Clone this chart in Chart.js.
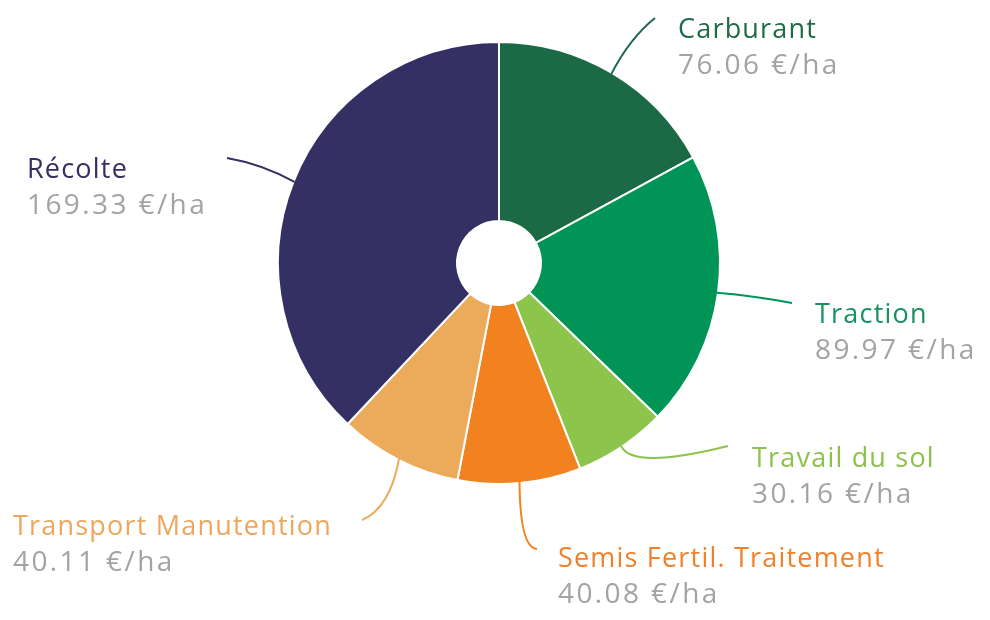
<!DOCTYPE html>
<html>
<head>
<meta charset="utf-8">
<script src="https://cdn.jsdelivr.net/npm/chart.js@4"></script>
<style>
	html, body { margin: 0; padding: 0; background: #fff; }
	#wrap { width: 990px; height: 620px; }
</style>
</head>
<body>
<div id="wrap"><canvas id="chart" width="990" height="620"></canvas></div>
<script>
// chart data
const categories = ["Carburant", "Traction", "Travail du sol", "Semis Fertil. Traitement", "Transport Manutention", "Récolte"];
const costs = [76.06, 89.97, 30.16, 40.08, 40.11, 169.33];
const unit = "€/ha";

const sliceColors = ["#1c6a45", "#009456", "#8dc44b", "#f2821f", "#ecab5b", "#343063"];
const textColors = ["#1f6b47", "#16915f", "#8cc24c", "#f0812a", "#eca75c", "#343063"];
const valueColor = "#a3a3a3";

// label placement: text anchor, leader end point and curve control point (pixels)
const labelPos = [
	{x: 678, y: 38, end: [655, 18], ctrl: [630, 38]},
	{x: 815, y: 323, end: [792, 303], ctrl: [755, 296]},
	{x: 752, y: 467, end: [728, 446], ctrl: [632, 470]},
	{x: 558, y: 567, end: [537, 549], ctrl: [520, 548]},
	{x: 13, y: 535, end: [362, 520], ctrl: [390, 508]},
	{x: 27, y: 178, end: [227, 158], ctrl: [262, 164]}
];

const FONT = "'Open Sans', sans-serif";

const labelsPlugin = {
	id: "sliceLabels",
	afterDraw: chart => {
		const ctx = chart.ctx;
		const arcs = chart.getDatasetMeta(0).data;
		arcs.forEach((arc, i) => {
			const {x, y, startAngle, endAngle, outerRadius} = arc.getProps(["x", "y", "startAngle", "endAngle", "outerRadius"], true);
			const mid = (startAngle + endAngle) / 2;
			const sx = x + Math.cos(mid) * (outerRadius - 1);
			const sy = y + Math.sin(mid) * (outerRadius - 1);
			const pos = labelPos[i];

			ctx.save();
			ctx.strokeStyle = sliceColors[i];
			ctx.lineWidth = 2;
			ctx.beginPath();
			ctx.moveTo(sx, sy);
			ctx.quadraticCurveTo(pos.ctrl[0], pos.ctrl[1], pos.end[0], pos.end[1]);
			ctx.stroke();

			ctx.textAlign = "left";
			ctx.textBaseline = "alphabetic";
			ctx.font = `27px ${FONT}`;
			ctx.letterSpacing = "1.2px";
			ctx.fillStyle = textColors[i];
			ctx.fillText(categories[i], pos.x, pos.y);
			// values use wider digits in the original
			ctx.font = `28px ${FONT}`;
			ctx.letterSpacing = "2.4px";
			ctx.fillStyle = valueColor;
			ctx.fillText(`${costs[i].toFixed(2)} ${unit}`, pos.x, pos.y + 36);
			ctx.restore();
		});
	}
};

new Chart(document.querySelector("#chart"), {
	type: "doughnut",
	data: {
		labels: categories,
		datasets: [{
			data: costs,
			backgroundColor: sliceColors,
			borderColor: "#ffffff",
			borderWidth: 2,
			hoverOffset: 0
		}]
	},
	options: {
		responsive: false,
		animation: false,
		cutout: 42,
		layout: {
			padding: {top: 41, bottom: 135, left: 208, right: 200}
		},
		plugins: {
			legend: {display: false},
			tooltip: {enabled: false}
		}
	},
	plugins: [labelsPlugin]
});
</script>
</body>
</html>
